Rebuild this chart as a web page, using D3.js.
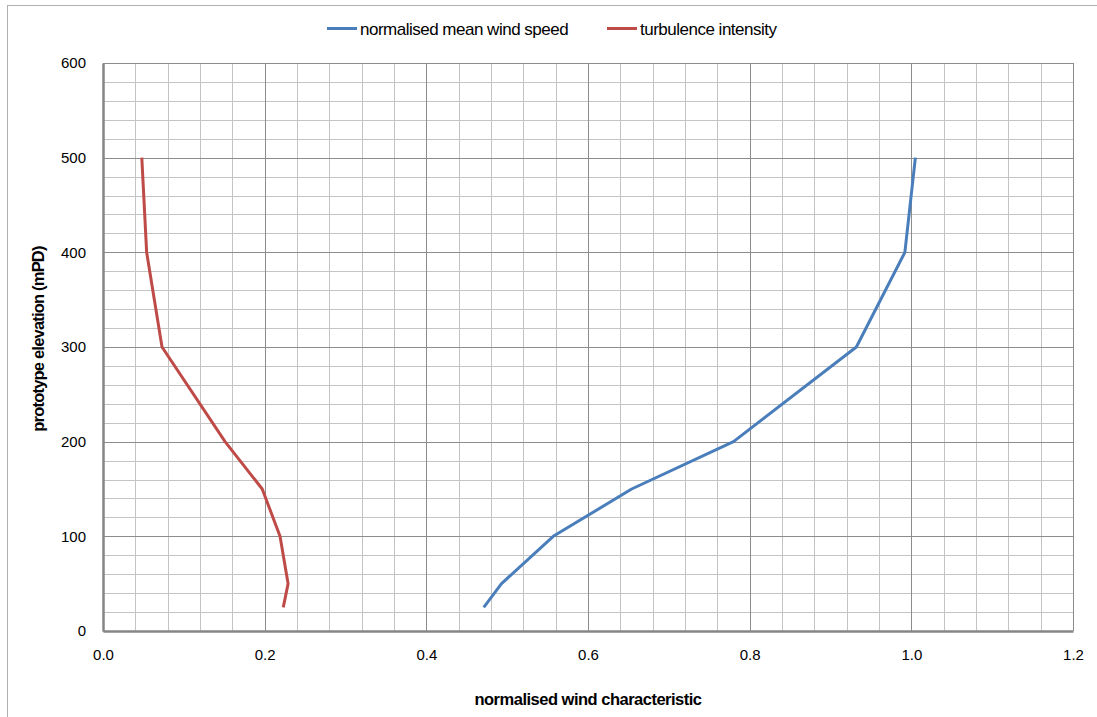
<!DOCTYPE html>
<meta charset="utf-8">
<style>
body { margin: 0; background: #fff; }
text { font-family: "Liberation Sans", Arial, sans-serif; fill: #000; }
</style>
<script src="https://cdn.jsdelivr.net/npm/d3@7"></script>
<body>
<script>
const elevation = [25, 50, 100, 150, 200, 300, 400, 500];
const windSpeed = [0.471, 0.493, 0.557, 0.654, 0.780, 0.932, 0.992, 1.005];
const turbulence = [0.223, 0.229, 0.219, 0.197, 0.151, 0.073, 0.054, 0.048];
const xTicks = [0, 0.2, 0.4, 0.6, 0.8, 1.0, 1.2];
const yTicks = [0, 100, 200, 300, 400, 500, 600];
const seriesNames = ['normalised mean wind speed', 'turbulence intensity'];
const colors = ['#4a7ebb', '#be4b48'];

const W = 1097, H = 717;
const margin = { top: 63, right: 24, bottom: 86, left: 103 };
const width = 1073 - margin.left;
const height = 631 - margin.top;

const svg = d3.select('body').append('svg')
  .attr('width', W).attr('height', H);

// outer chart frame
svg.append('rect')
  .attr('x', 7.5).attr('y', 5.5)
  .attr('width', W + 10).attr('height', H + 10)
  .attr('fill', 'none').attr('stroke', '#b0b0b0').attr('stroke-width', 1);

const g = svg.append('g')
  .attr('transform', `translate(${margin.left}, ${margin.top})`);

const x = d3.scaleLinear().domain([0, 1.2]).range([0, width]);
const y = d3.scaleLinear().domain([0, 600]).range([height, 0]);

// minor grid
const xMinor = d3.range(0, 1.2001, 0.04);
const yMinor = d3.range(0, 600.1, 20);
g.append('g').selectAll('line').data(xMinor).join('line')
  .attr('x1', d => Math.round(x(d)) + 0.5).attr('x2', d => Math.round(x(d)) + 0.5)
  .attr('y1', 0).attr('y2', height)
  .attr('stroke', '#c4c4c4');
g.append('g').selectAll('line').data(yMinor).join('line')
  .attr('y1', d => Math.round(y(d)) + 0.5).attr('y2', d => Math.round(y(d)) + 0.5)
  .attr('x1', 0).attr('x2', width)
  .attr('stroke', '#c4c4c4');

// major grid
g.append('g').selectAll('line').data(xTicks).join('line')
  .attr('x1', d => Math.round(x(d)) + 0.5).attr('x2', d => Math.round(x(d)) + 0.5)
  .attr('y1', 0).attr('y2', height)
  .attr('stroke', '#8c8c8c');
g.append('g').selectAll('line').data(yTicks).join('line')
  .attr('y1', d => Math.round(y(d)) + 0.5).attr('y2', d => Math.round(y(d)) + 0.5)
  .attr('x1', 0).attr('x2', width)
  .attr('stroke', '#8c8c8c');

// axes
const xAxis = g.append('g')
  .attr('transform', `translate(0, ${height})`)
  .call(d3.axisBottom(x).tickValues(xTicks).tickFormat(d3.format('.1f')).tickSize(0).tickPadding(18));
const yAxis = g.append('g')
  .call(d3.axisLeft(y).tickValues(yTicks).tickSize(0).tickPadding(17));
[xAxis, yAxis].forEach(a => {
  a.select('.domain').attr('stroke', '#868686').attr('stroke-width', 2.5);
  a.selectAll('text').style('font-size', '15px').style('font-family', '"Liberation Sans", Arial, sans-serif');
});

// lines
const lineGen = d3.line().x(d => x(d[0])).y(d => y(d[1]));
const series = [windSpeed, turbulence];
series.forEach((vals, i) => {
  g.append('path')
    .datum(vals.map((v, j) => [v, elevation[j]]))
    .attr('d', lineGen)
    .attr('fill', 'none')
    .attr('stroke', colors[i])
    .attr('stroke-width', 3)
    .attr('stroke-linejoin', 'round');
});

// axis titles
svg.append('text')
  .attr('x', margin.left + width / 2).attr('y', 705)
  .attr('text-anchor', 'middle')
  .style('font-size', '16.5px').style('font-weight', 'bold').style('letter-spacing', '-0.5px')
  .text('normalised wind characteristic');
svg.append('text')
  .attr('transform', `translate(44, ${margin.top + height / 2 - 8}) rotate(-90)`)
  .attr('text-anchor', 'middle')
  .style('font-size', '16.5px').style('font-weight', 'bold').style('letter-spacing', '-0.8px')
  .text('prototype elevation (mPD)');

// legend
const legendX = [327, 607];
seriesNames.forEach((name, i) => {
  svg.append('line')
    .attr('x1', legendX[i]).attr('x2', legendX[i] + 30)
    .attr('y1', 28.5).attr('y2', 28.5)
    .attr('stroke', colors[i]).attr('stroke-width', 3);
  svg.append('text')
    .attr('x', legendX[i] + 33).attr('y', 34.5)
    .style('font-size', '17px').style('letter-spacing', '-0.5px')
    .text(name);
});
</script>
</body>
</html>
